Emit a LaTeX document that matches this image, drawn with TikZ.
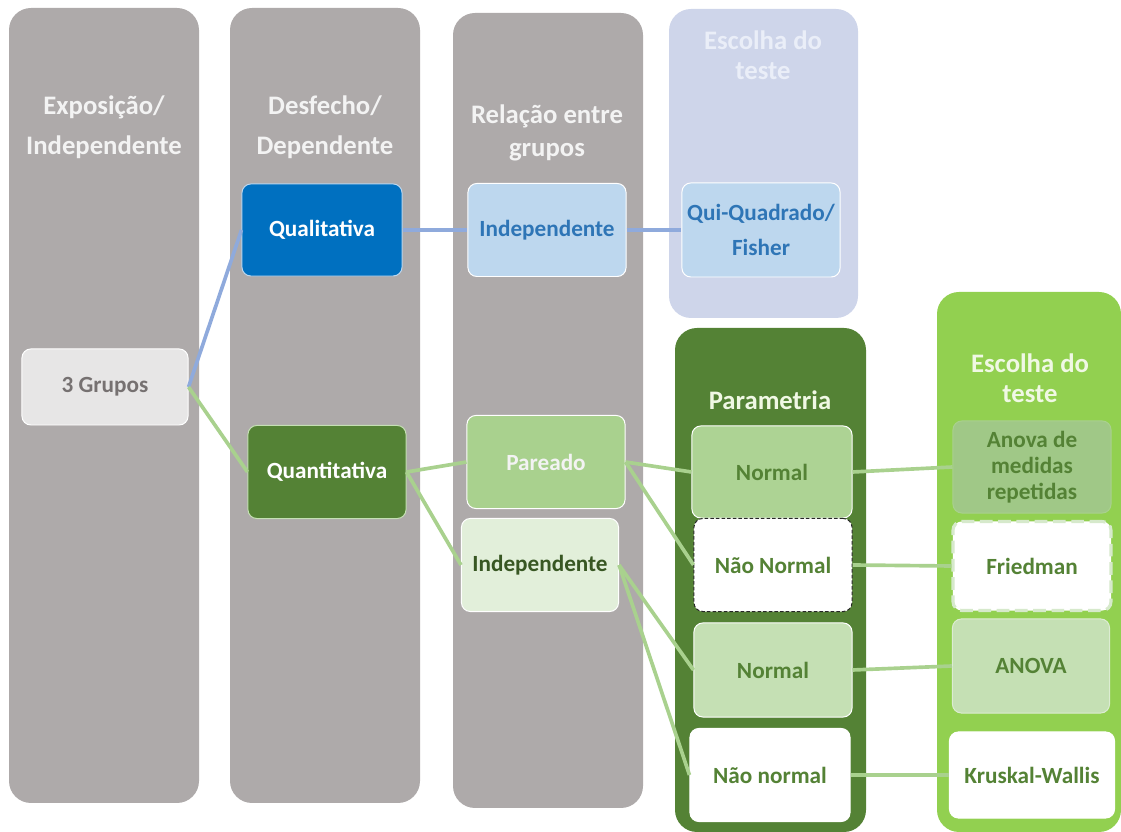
\documentclass[tikz,border=0pt]{standalone}
\usepackage{fontspec}
\setmainfont{Carlito}
\definecolor{colgray}{RGB}{174,170,170}
\definecolor{collav}{RGB}{206,213,234}
\definecolor{coldark}{RGB}{84,130,53}
\definecolor{collime}{RGB}{146,208,80}
\definecolor{headwhite}{RGB}{243,243,243}
\definecolor{headlav}{RGB}{234,238,248}
\definecolor{headlime}{RGB}{240,248,228}
\definecolor{grpfill}{RGB}{231,230,230}
\definecolor{grptext}{RGB}{118,113,113}
\definecolor{qualblue}{RGB}{0,112,192}
\definecolor{paleblue}{RGB}{189,215,238}
\definecolor{blueword}{RGB}{46,117,182}
\definecolor{midgreen}{RGB}{169,209,142}
\definecolor{repgreen}{RGB}{160,200,135}
\definecolor{softgreen}{RGB}{197,224,180}
\definecolor{palegreen}{RGB}{226,239,218}
\definecolor{deepword}{RGB}{56,87,35}
\definecolor{greenword}{RGB}{84,130,53}
\definecolor{bluelink}{RGB}{143,170,220}
\definecolor{greenlink}{RGB}{169,209,142}

\begin{document}
\begin{tikzpicture}[x=0.025cm,y=-0.025cm,
  column/.style={rounded corners=0.55cm},
  head/.style={align=center,font=\fontsize{19}{23}\selectfont\bfseries},
  box/.style={rounded corners=0.22cm,minimum width=3.95cm,minimum height=2.325cm,
    inner sep=0pt,align=center,line width=0.7pt,draw=white,
    font=\fontsize{16.5}{19}\selectfont\bfseries},
  link/.style={line width=2.6pt}]
  \useasboundingbox (0,0) rectangle (1121,832);
  % background columns
  \fill[colgray,column] (9,8) rectangle (199,803);
  \fill[colgray,column] (230,8) rectangle (420,803);
  \fill[colgray,column] (453,13) rectangle (643,808);
  \fill[collav,column] (669,9) rectangle (858,318);
  \fill[coldark,column] (675,328) rectangle (866,832);
  \fill[collime,column] (937,292) rectangle (1121,832);
  % column titles
  \node[head,text=headwhite,font=\fontsize{19}{28.4}\selectfont\bfseries] (hexpo) at (104,127) {Exposição/\\Independente};
  \node[head,text=headwhite,font=\fontsize{19}{28.4}\selectfont\bfseries] (hdesf) at (325,127) {Desfecho/\\Dependente};
  \node[head,text=headwhite] (hrel) at (547,133) {Relação entre\\grupos};
  \node[head,text=headlav,font=\fontsize{19}{21.3}\selectfont\bfseries] (hesc) at (763,55) {Escolha do\\teste};
  \node[head,text=headlime] (hpar) at (770,400) {Parametria};
  \node[head,text=headlime,font=\fontsize{19}{21.3}\selectfont\bfseries] (hteste) at (1030,378) {Escolha do\\teste};
  % boxes
  \node[box,fill=grpfill,text=grptext,minimum width=4.15cm,minimum height=1.9cm] (grupos) at (105,387) {3 Grupos};
  \node[box,fill=qualblue,text=white,draw=paleblue,minimum width=4cm,minimum height=2.3cm] (quali) at (322,230) {Qualitativa};
  \node[box,fill=paleblue,text=blueword] (indblue) at (547,230) {Independente};
  \node[box,fill=paleblue,text=blueword,minimum height=2.35cm,font=\fontsize{16.5}{25}\selectfont\bfseries] (qui) at (761,230) {Qui-Quadrado/\\Fisher};
  \node[box,fill=coldark,text=white,draw=softgreen] (quanti) at (327,472) {Quantitativa};
  \node[box,fill=midgreen,text=headwhite] (pareado) at (546,462) {Pareado};
  \node[box,fill=palegreen,text=deepword,minimum width=3.925cm] (indgreen) at (540,565) {Independente};
  \node[box,fill=midgreen!95!white,text=greenword,minimum width=4cm,minimum height=2.3cm] (normA) at (772,472) {Normal};
  \node[box,fill=white,text=greenword,draw=black!85,dash pattern=on 2.5pt off 1.5pt] (naoA) at (773,565) {Não Normal};
  \node[box,fill=softgreen,text=greenword,minimum height=2.35cm] (normB) at (773,670) {Normal};
  \node[box,fill=white,text=greenword,minimum width=4cm] (naoB) at (770,775) {Não normal};
  \node[box,fill=repgreen,text=greenword,draw=midgreen,minimum height=2.3cm,font=\fontsize{16.5}{18.5}\selectfont\bfseries] (anovarep) at (1032,467) {Anova de\\medidas\\repetidas};
  \node[box,fill=white,text=greenword,draw=softgreen!70!white,line width=2.2pt,dash pattern=on 9pt off 4pt,minimum height=2.225cm] (friedman) at (1032,566) {Friedman};
  \node[box,fill=softgreen,text=greenword,draw=softgreen!60!white,minimum width=3.925cm,minimum height=2.35cm] (anova) at (1031,666) {ANOVA};
  \node[box,fill=white,text=greenword,minimum width=4.125cm,minimum height=2.15cm] (kruskal) at (1032,775) {Kruskal-Wallis};
  % connectors
  \draw[link,bluelink] (grupos.east) -- (quali.west);
  \draw[link,bluelink] (quali.east) -- (indblue.west);
  \draw[link,bluelink] (indblue.east) -- (qui.west);
  \draw[link,greenlink] (grupos.east) -- (quanti.west);
  \draw[link,greenlink] (quanti.east) -- (pareado.west);
  \draw[link,greenlink] (quanti.east) -- (indgreen.west);
  \draw[link,greenlink] (pareado.east) -- (normA.west);
  \draw[link,greenlink] (pareado.east) -- (naoA.west);
  \draw[link,greenlink] (indgreen.east) -- (normB.west);
  \draw[link,greenlink] (indgreen.east) -- (naoB.west);
  \draw[link,greenlink] (normA.east) -- (anovarep.west);
  \draw[link,greenlink] (naoA.east) -- (friedman.west);
  \draw[link,greenlink] (normB.east) -- (anova.west);
  \draw[link,greenlink] (naoB.east) -- (kruskal.west);
\end{tikzpicture}
\end{document}
